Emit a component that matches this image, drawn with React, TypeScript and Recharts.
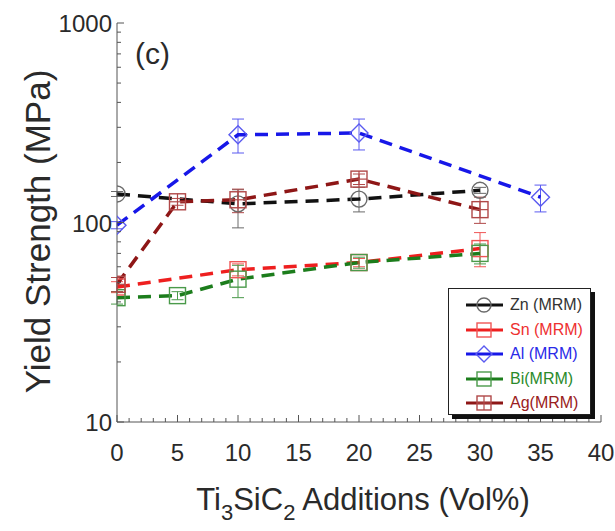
import React from "react";
import { LineChart, Line, XAxis, YAxis, ErrorBar, Legend, Label } from "recharts";

const FONT = '"Liberation Sans", Arial, Helvetica, sans-serif';
const AXIS = "#555";
const INK = "#2a2a2a";

// tick values
const xMinorTicks = [
  0, 1, 2, 3, 4, 5, 6, 7, 8, 9, 10, 11, 12, 13, 14, 15, 16, 17, 18, 19, 20,
  21, 22, 23, 24, 25, 26, 27, 28, 29, 30, 31, 32, 33, 34, 35, 36, 37, 38, 39, 40,
];
const yMinorTicks = [
  10, 20, 30, 40, 50, 60, 70, 80, 90, 100, 200, 300, 400, 500, 600, 700, 800, 900, 1000,
];
const yLabels = [10, 100, 1000];

// series: x (vol%), yield strength (MPa), error [minus, plus]
const znX = [0, 10, 20, 30];
const znY = [139, 124, 131, 145];
const znErr = [[4, 4], [30, 22], [18, 19], [5, 5]];

const snX = [0, 10, 20, 30];
const snY = [47.5, 58, 63, 74];
const snErr = [[3, 3], [4, 4], [3, 3], [14, 15]];

const alX = [0, 10, 20, 35];
const alY = [97, 275, 281, 134];
const alErr = [[4, 4], [52, 55], [50, 49], [21, 20]];

const biX = [0, 5, 10, 20, 30];
const biY = [42, 43, 52, 63, 70];
const biErr = [[3, 3], [2, 2], [10, 9], [4, 4], [8, 8]];

const agX = [0, 5, 10, 20, 30];
const agY = [49, 127, 130, 165, 116];
const agErr = [[4, 4], [5, 5], [18, 17], [10, 10], [17, 18]];

type Shape = "circle" | "square" | "diamond" | "cross";

const series = [
  { name: "Zn (MRM)", xs: znX, ys: znY, errs: znErr, line: "#111111", mark: "#6a6a6a", text: "#333333", shape: "circle" as Shape },
  { name: "Sn (MRM)", xs: snX, ys: snY, errs: snErr, line: "#ee1f1f", mark: "#f05555", text: "#ee3030", shape: "square" as Shape },
  { name: "Al (MRM)", xs: alX, ys: alY, errs: alErr, line: "#1717e8", mark: "#5a5af0", text: "#2a2ae8", shape: "diamond" as Shape },
  { name: "Bi(MRM)", xs: biX, ys: biY, errs: biErr, line: "#1c7d1c", mark: "#4a9a4a", text: "#2a8a2a", shape: "square" as Shape },
  { name: "Ag(MRM)", xs: agX, ys: agY, errs: agErr, line: "#8e1616", mark: "#b04848", text: "#9a2020", shape: "cross" as Shape },
];

const rows = (xs: number[], ys: number[], errs: number[][]) =>
  xs.map((x, i) => ({ x, y: ys[i], err: errs[i] }));

function Marker({ cx, cy, shape, color, r = 8 }: { cx: number; cy: number; shape: Shape; color: string; r?: number }) {
  if (cx == null || cy == null) return <g />;
  if (shape === "circle")
    return <circle cx={cx} cy={cy} r={r} fill="none" stroke={color} strokeWidth={1.4} />;
  if (shape === "diamond")
    return (
      <polygon
        points={`${cx},${cy - r - 1} ${cx + r + 1},${cy} ${cx},${cy + r + 1} ${cx - r - 1},${cy}`}
        fill="none"
        stroke={color}
        strokeWidth={1.4}
      />
    );
  return (
    <g>
      <rect x={cx - r} y={cy - r} width={2 * r} height={2 * r} fill="none" stroke={color} strokeWidth={1.4} />
      {shape === "cross" && (
        <>
          <line x1={cx - r} x2={cx + r} y1={cy} y2={cy} stroke={color} strokeWidth={1.2} />
          <line x1={cx} x2={cx} y1={cy - r} y2={cy + r} stroke={color} strokeWidth={1.2} />
        </>
      )}
    </g>
  );
}

function XTick({ x, y, payload, side }: any) {
  const v = payload.value;
  const major = v % 5 === 0;
  const len = major ? 7 : 4;
  const dir = side === "bottom" ? -1 : 1;
  return (
    <g>
      <line x1={x} x2={x} y1={y} y2={y + dir * len} stroke={AXIS} strokeWidth={1} />
      {side === "bottom" && major && (
        <text x={x} y={y + 39} textAnchor="middle" fontSize={24} fill={INK} fontFamily={FONT}>
          {v}
        </text>
      )}
    </g>
  );
}

function YTick({ x, y, payload, side }: any) {
  const v = payload.value;
  const major = yLabels.includes(v);
  const len = major ? 7 : 4;
  const dir = side === "left" ? 1 : -1;
  return (
    <g>
      <line x1={x} x2={x + dir * len} y1={y} y2={y} stroke={AXIS} strokeWidth={1} />
      {side === "left" && major && (
        <text x={x - 5} y={y + 9} textAnchor="end" fontSize={24} fill={INK} fontFamily={FONT}>
          {v}
        </text>
      )}
    </g>
  );
}

function XTitle({ viewBox }: any) {
  const cx = viewBox.x + viewBox.width / 2 + 4;
  return (
    <text x={cx} y={510} textAnchor="middle" fontSize={31} fill={INK} fontFamily={FONT}>
      Ti
      <tspan fontSize={22} dy={10}>3</tspan>
      <tspan dy={-10}>SiC</tspan>
      <tspan fontSize={22} dy={10}>2</tspan>
      <tspan dy={-10}> Additions (Vol%)</tspan>
    </text>
  );
}

function YTitle({ viewBox }: any) {
  const cy = viewBox.y + viewBox.height / 2 + 9;
  return (
    <text
      x={50}
      y={cy}
      transform={`rotate(-90 50 ${cy})`}
      textAnchor="middle"
      fontSize={35}
      fill={INK}
      fontFamily={FONT}
    >
      Yield Strength (MPa)
    </text>
  );
}

function LegendBox() {
  return (
    <div
      style={{
        width: 143,
        height: 127,
        border: "1.5px solid #222",
        boxShadow: "4px 4px 0 #111",
        background: "#fff",
        boxSizing: "border-box",
        paddingTop: 4,
        fontFamily: FONT,
      }}
    >
      {series.map((s) => (
        <div key={s.name} style={{ display: "flex", alignItems: "center", height: 24.5 }}>
          <svg width={44} height={22} style={{ marginLeft: 14, flex: "none" }}>
            <line x1={3} x2={40} y1={11} y2={11} stroke={s.line} strokeWidth={3} />
            <Marker cx={21} cy={11} shape={s.shape} color={s.mark} r={7} />
          </svg>
          <span style={{ fontSize: 16, color: s.text, marginLeft: 3, whiteSpace: "nowrap" }}>{s.name}</span>
        </div>
      ))}
    </div>
  );
}

export default function App() {
  return (
    <div style={{ position: "absolute", left: 0, top: 0, width: 615, height: 531, background: "#fff" }}>
      <LineChart width={615} height={531} margin={{ top: 23, right: 14, bottom: 0, left: 0 }}>
        <XAxis
          xAxisId="b"
          type="number"
          dataKey="x"
          domain={[0, 40]}
          allowDataOverflow
          ticks={xMinorTicks}
          interval={0}
          tickSize={0}
          tickMargin={0}
          tickLine={false}
          axisLine={{ stroke: AXIS }}
          tick={(p: any) => <XTick {...p} side="bottom" />}
          height={109}
        >
          <Label content={(p: any) => <XTitle {...p} />} />
        </XAxis>
        <XAxis
          xAxisId="t"
          orientation="top"
          type="number"
          domain={[0, 40]}
          allowDataOverflow
          ticks={xMinorTicks}
          interval={0}
          tickSize={0}
          tickMargin={0}
          tickLine={false}
          axisLine={{ stroke: AXIS }}
          tick={(p: any) => <XTick {...p} side="top" />}
          height={0}
        />
        <YAxis
          yAxisId="l"
          type="number"
          scale="log"
          domain={[10, 1000]}
          allowDataOverflow
          ticks={yMinorTicks}
          interval={0}
          tickSize={0}
          tickMargin={0}
          tickLine={false}
          axisLine={{ stroke: AXIS }}
          tick={(p: any) => <YTick {...p} side="left" />}
          width={117}
        >
          <Label content={(p: any) => <YTitle {...p} />} />
        </YAxis>
        <YAxis
          yAxisId="r"
          orientation="right"
          type="number"
          scale="log"
          domain={[10, 1000]}
          allowDataOverflow
          ticks={yMinorTicks}
          interval={0}
          tickSize={0}
          tickMargin={0}
          tickLine={false}
          axisLine={{ stroke: AXIS }}
          tick={(p: any) => <YTick {...p} side="right" />}
          width={0}
        />
        <text x={135} y={64} fontSize={30} fill={INK} fontFamily={FONT}>
          (c)
        </text>
        {series.map((s) => (
          <Line
            key={s.name}
            xAxisId="b"
            yAxisId="l"
            data={rows(s.xs, s.ys, s.errs)}
            dataKey="y"
            name={s.name}
            type="linear"
            stroke={s.line}
            strokeWidth={3.5}
            strokeDasharray="13 8"
            isAnimationActive={false}
            dot={(p: any) => (
              <g key={`${s.name}-${p.index}`}>
                <Marker cx={p.cx} cy={p.cy} shape={s.shape} color={s.mark} />
              </g>
            )}
            activeDot={false}
          >
            <ErrorBar dataKey="err" direction="y" width={6} stroke={s.mark} strokeWidth={1} />
          </Line>
        ))}
        <Legend
          layout="horizontal"
          verticalAlign="middle"
          align="center"
          content={() => <LegendBox />}
          wrapperStyle={{ left: 448, top: 288, width: 150, height: 134 }}
        />
      </LineChart>
    </div>
  );
}
